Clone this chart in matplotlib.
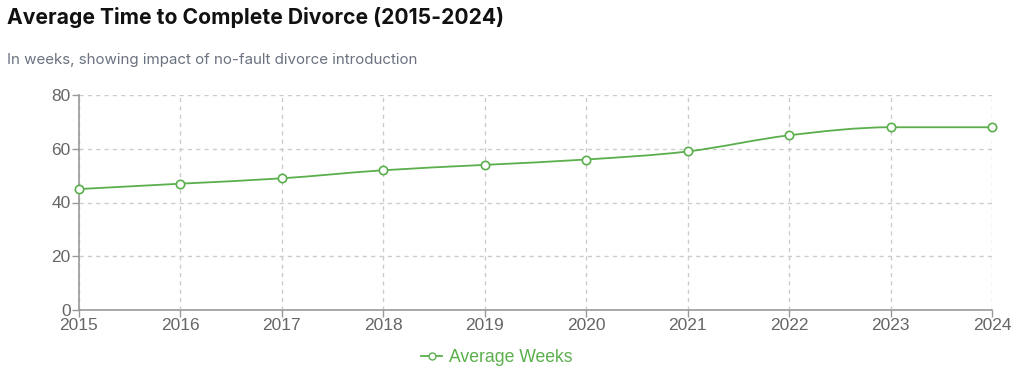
import numpy as np
import matplotlib
matplotlib.use("Agg")
import matplotlib.pyplot as plt
from matplotlib.path import Path
from matplotlib.patches import PathPatch
from matplotlib.lines import Line2D

years = [2015, 2016, 2017, 2018, 2019, 2020, 2021, 2022, 2023, 2024]
avg_weeks = [45, 47, 49, 52, 54, 56, 59, 65, 68, 68]

GREEN = "#5aaf4c"
AXIS = "#999999"
TICK = "#666666"


def monotone_path(x, y):
    # monotone-x cubic curve (like d3 curveMonotoneX) as bezier segments
    x = np.asarray(x, float)
    y = np.asarray(y, float)
    n = len(x)
    h = np.diff(x)
    s = np.diff(y) / h
    t = np.zeros(n)
    for i in range(1, n - 1):
        if s[i - 1] * s[i] <= 0:
            t[i] = 0
        else:
            p = (s[i - 1] * h[i] + s[i] * h[i - 1]) / (h[i - 1] + h[i])
            t[i] = (np.sign(s[i - 1]) + np.sign(s[i])) * min(abs(s[i - 1]), abs(s[i]), 0.5 * abs(p))
    t[0] = (3 * s[0] - t[1]) / 2 if n > 2 else s[0]
    t[-1] = (3 * s[-1] - t[-2]) / 2 if n > 2 else s[-1]
    verts = [(x[0], y[0])]
    codes = [Path.MOVETO]
    for i in range(n - 1):
        dx = h[i] / 3
        verts += [(x[i] + dx, y[i] + dx * t[i]),
                  (x[i + 1] - dx, y[i + 1] - dx * t[i + 1]),
                  (x[i + 1], y[i + 1])]
        codes += [Path.CURVE4] * 3
    return Path(verts, codes)


fig = plt.figure(figsize=(10.24, 3.82), dpi=100)
ax = fig.add_axes([79 / 1024, 72 / 382, (992 - 79) / 1024, (310 - 95) / 382])

ax.set_xlim(years[0], years[-1])
ax.set_ylim(0, 80)
ax.set_xticks(years)
ax.set_yticks([0, 20, 40, 60, 80])

ax.grid(True, color="#cccccc", linestyle=(0, (3, 3)), linewidth=1)
ax.set_axisbelow(True)
for side in ["top", "right"]:
    ax.spines[side].set_visible(False)
for side in ["left", "bottom"]:
    ax.spines[side].set_color(AXIS)
    ax.spines[side].set_linewidth(1.2)
ax.tick_params(colors=AXIS, labelcolor=TICK, labelsize=12.5, length=5, width=1)
for lab in ax.get_xticklabels() + ax.get_yticklabels():
    lab.set_fontfamily("Liberation Sans")
ax.tick_params(axis="y", pad=1)
ax.tick_params(axis="x", pad=1)

ax.add_patch(PathPatch(monotone_path(years, avg_weeks), facecolor="none",
                       edgecolor=GREEN, linewidth=1.3, zorder=3, clip_on=False))
ax.plot(years, avg_weeks, linestyle="none", marker="o", markersize=6,
        markerfacecolor="white", markeredgecolor=GREEN, markeredgewidth=1.2,
        zorder=4, clip_on=False)

fig.text(7 / 1024, 1 - 17 / 382, "Average Time to Complete Divorce (2015-2024)",
         fontsize=15.2, fontweight="bold", family="Inter", color="#111111",
         va="center", ha="left")
fig.text(7 / 1024, 1 - 60 / 382, "In weeks, showing impact of no-fault divorce introduction",
         fontsize=10.9, family="Inter", color="#6b7280", va="center", ha="left")

handle = Line2D([], [], color=GREEN, linewidth=1.3, marker="o", markersize=5,
                markerfacecolor="white", markeredgecolor=GREEN)
leg = fig.legend([handle], ["Average Weeks"], loc="center", bbox_to_anchor=(497 / 1024, 1 - 358 / 382),
                 frameon=False, handlelength=1.2, handletextpad=0.4,
                 prop={"family": "Liberation Sans", "size": 12.7})
for txt in leg.get_texts():
    txt.set_color(GREEN)

fig.savefig("out.png", dpi=100)
plt.close(fig)
